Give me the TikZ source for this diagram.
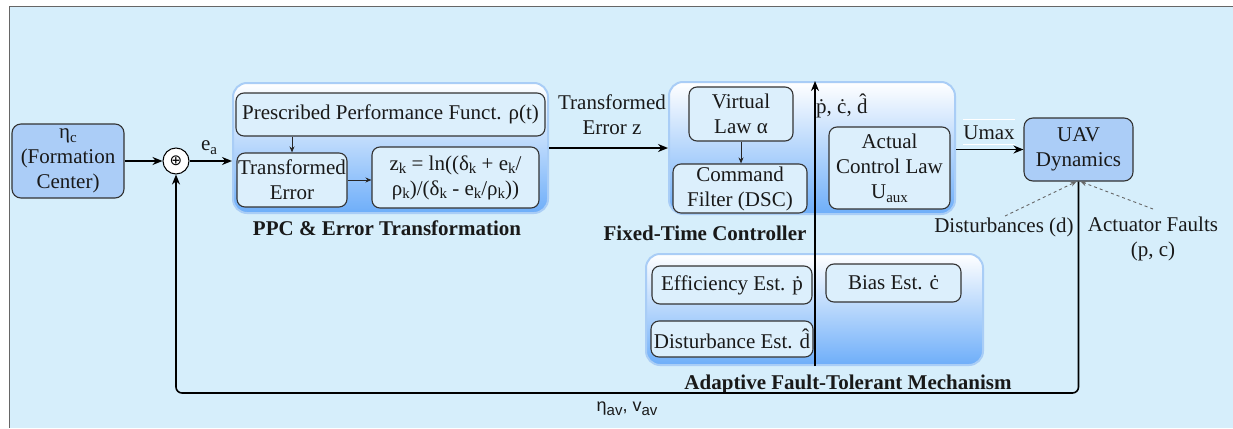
\documentclass[tikz,border=0pt]{standalone}
\usepackage{fontspec}
\setmainfont{Liberation Serif}
\newfontfamily\sansf{Liberation Sans}
\newfontfamily\dejavu{DejaVu Sans}
\usetikzlibrary{arrows.meta}
\definecolor{bgblue}{HTML}{D6EEFB}
\definecolor{boxblue}{HTML}{ABCDF7}
\definecolor{grpborder}{HTML}{A9CDF6}
\definecolor{grpbottom}{HTML}{6EAEF9}
\definecolor{innerfill}{HTML}{DCEFFC}
\definecolor{edge}{HTML}{333333}
\newcommand\sub[1]{\raisebox{-0.4ex}{\fontsize{15}{15}\selectfont #1}}
\tikzset{
  txt/.style={font=\fontsize{21}{25}\selectfont, text=black!90},
  mainbox/.style={txt, draw=edge, line width=1.1pt, fill=boxblue, rounded corners=9pt, inner sep=0pt, align=center},
  inbox/.style={txt, draw=edge, line width=1.1pt, fill=innerfill, rounded corners=8pt, inner sep=0pt, align=center},
  grp/.style={draw=grpborder, line width=2pt, rounded corners=14pt, top color=white, bottom color=grpbottom, inner sep=0pt},
  arr/.style={draw=black, line width=1.6pt, -{Stealth[length=10pt,width=8pt]}},
  tarr/.style={draw=black!85, line width=1pt, -{Stealth[length=6pt,width=5pt]}},
  darr/.style={draw=black!60, line width=0.9pt, dash pattern=on 3pt off 3pt, -{Stealth[length=6pt,width=5pt]}},
  grplabel/.style={font=\fontsize{21}{25}\selectfont\bfseries, text=black!90},
  lbl/.style={txt, inner sep=0pt, align=center}
}
\begin{document}
\begin{tikzpicture}[x=1pt,y=-1pt]
\useasboundingbox (0,0) rectangle (1233,428);
\fill[white] (0,0) rectangle (1233,428);
\fill[bgblue] (9,7) rectangle (1233,428);
\draw[gray!80!black, line width=1pt] (1233,7) -- (9,7) -- (9,428);

% groups
\node[grp, minimum width=315, minimum height=130] (ppc) at (390.5,148) {};
\node[grp, minimum width=286, minimum height=132] (ftc) at (812,148) {};
\node[grp, minimum width=337, minimum height=111] (afm) at (814.5,309.5) {};

% main boxes
\node[mainbox, minimum width=112, minimum height=74] (eta) at (68,161) {η\sub{c}\\(Formation\\Center)};
\node[draw=black, line width=1pt, fill=white, circle, minimum size=26pt, inner sep=0pt] (sum) at (176,161) {\dejavu\fontsize{15}{15}\selectfont ⊕};
\node[mainbox, minimum width=109, minimum height=63] (uav) at (1078.5,149.5) {UAV\\Dynamics};

% PPC inner
\node[inbox, minimum width=309, minimum height=43] (pres) at (390.5,114.5) {Prescribed Performance Funct. ρ(t)};
\node[inbox, minimum width=110, minimum height=54] (te) at (292,180) {Transformed\\Error};
\node[inbox, minimum width=167, minimum height=61] (zk) at (455.5,177.5) {z\sub{k} = ln((δ\sub{k} + e\sub{k}/\\ρ\sub{k})/(δ\sub{k} - e\sub{k}/ρ\sub{k}))};

% FTC inner
\node[inbox, minimum width=104, minimum height=54] (virt) at (741,114) {Virtual\\Law α};
\node[inbox, minimum width=134, minimum height=49] (cmd) at (740,188.5) {Command\\Filter (DSC)};
\node[inbox, minimum width=121, minimum height=82] (act) at (889.5,168) {Actual\\Control Law\\U\sub{aux}};

% AFM inner
\node[inbox, minimum width=160, minimum height=38] (eff) at (732,285) {Efficiency Est. \.p};
\node[inbox, minimum width=135, minimum height=38] (bias) at (893.5,283) {Bias Est. \.c};
\node[inbox, minimum width=162, minimum height=36] (dist) at (732,339) {Disturbance Est. \^d};

% group labels
\node[grplabel] (ppcl) at (387,228) {PPC \& Error Transformation};
\node[grplabel] (ftcl) at (705,233) {Fixed-Time Controller};
\node[grplabel] (afml) at (848,384) {Adaptive Fault-Tolerant Mechanism};

% free labels
\node[lbl] (ea) at (209,148) {e\sub{a}};
\node[lbl] (tez) at (612,115) {Transformed\\Error z};
\node[lbl, anchor=west] (est) at (816,106) {\.p, \.c, \^d};
\node[lbl] (umax) at (989,133) {Umax};
\node[lbl] (dl) at (1004,227) {Disturbances (d)};
\node[lbl] (afl) at (1153,239) {Actuator Faults\\(p, c)};
\node[font=\sansf\fontsize{18}{20}\selectfont, text=black!90, inner sep=0pt] (fbl) at (627,409) {η\sub{av}, v\sub{av}};

\draw[white, line width=1pt] (963,119) -- (1015,119) (963,144) -- (1015,144);

% coordinates
\coordinate (vx) at (815,0);
\coordinate (fb) at (0,393);
\coordinate (dd) at (1005,216);
\coordinate (af) at (1153,209);

% connectors
\draw[arr] (eta.east) -- (sum.west);
\draw[arr] (sum.east) -- (sum -| ppc.west);
\draw[tarr] (te.north |- pres.south) -- (te.north);
\draw[tarr] (te.east) -- (te.east -| zk.west);
\draw[arr] (ppc.east) -- (ftc.west);
\draw[tarr] (virt.south) -- (virt.south |- cmd.north);
\draw[arr] (afm.south -| vx) -- (ftc.north -| vx);
\draw[arr] (ftc.east |- uav.west) -- (uav.west);
\draw[darr] (dd) -- ([xshift=-2pt]uav.south);
\draw[darr] (af) -- ([xshift=2pt]uav.south);
\draw[arr, rounded corners=6pt] (uav.south) -- (uav.south |- fb) -- (sum.south |- fb) -- (sum.south);
\end{tikzpicture}
\end{document}
